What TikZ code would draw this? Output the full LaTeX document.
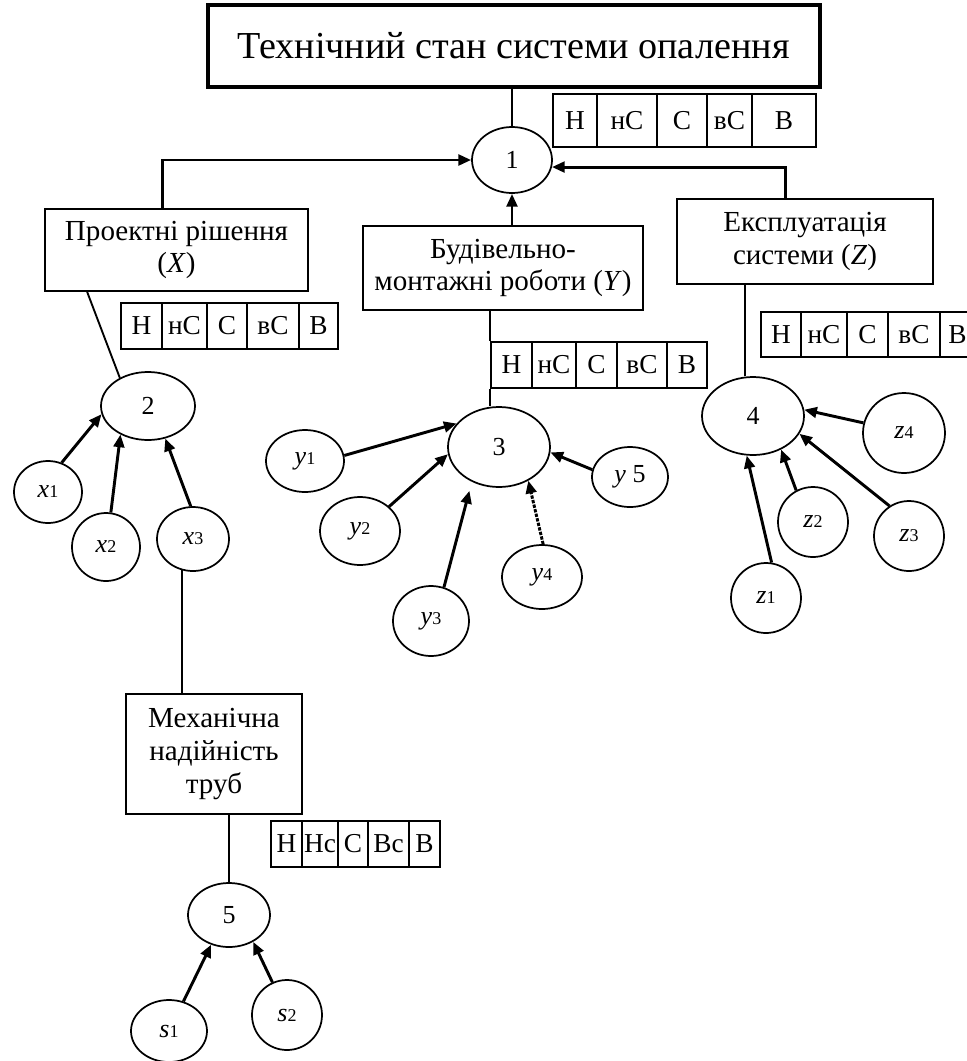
\documentclass[tikz,border=0pt]{standalone}
\usepackage{fontspec}
\setmainfont{Liberation Serif}
\usetikzlibrary{shapes.geometric,arrows.meta,calc}
\newcommand\lab[2]{{\itshape #1}{\fontsize{13.5}{13.5}\selectfont #2}}
\newcommand\tcell[6]{\node[tcell, minimum width={(#3-#2)*0.75pt}, minimum height={(#5-#4)*0.75pt}] (#1) at ({(#2+#3)/2},{(#4+#5)/2}) {#6};}
\begin{document}
\begin{tikzpicture}[x=0.75pt,y=-0.75pt,
  el/.style 2 args={ellipse, draw, line width=1.3pt, inner sep=0pt, minimum width=#1*0.75pt, minimum height=#2*0.75pt, font=\fontsize{19.5}{19.5}\selectfont},
  box/.style 2 args={rectangle, draw, line width=1.3pt, inner sep=0pt, minimum width=#1*0.75pt, minimum height=#2*0.75pt, align=center, font=\fontsize{21.8}{24.5}\selectfont},
  tcell/.style={rectangle, draw, line width=1pt, inner sep=0pt, font=\fontsize{20.5}{20.5}\selectfont},
  conn/.style={line width=1.4pt},
  arr/.style={line width=2.2pt, -{Triangle[length=9.5pt,width=8pt]}},
  dotarr/.style={arr, dash pattern=on 2.5pt off 1pt}]
\useasboundingbox (0,0) rectangle (967,1061);
\clip (0,0) rectangle (967,1061);

% title
\node[draw, line width=3pt, inner sep=0pt, minimum width=612*0.75pt, minimum height=82*0.75pt, font=\fontsize{28.6}{28.6}\selectfont] (title) at (513.5,46) {Технічний стан системи опалення};

% boxes
\node[box={263}{82}] (xbox) at (176.5,250) {Проектні рішення\\(\textit{X})};
\node[box={280}{84}] (ybox) at (503,268) {Будівельно-\\монтажні роботи (\textit{Y})};
\node[box={256}{85}] (zbox) at (805,241.5) {Експлуатація\\системи (\textit{Z})};
\node[box={176}{120}] (mech) at (214,754) {Механічна\\надійність\\труб};

% tables
\tcell{t1a}{553}{597}{94}{147}{Н}
\tcell{t1b}{597}{657}{94}{147}{нС}
\tcell{t1c}{657}{707}{94}{147}{С}
\tcell{t1d}{707}{752}{94}{147}{вС}
\tcell{t1e}{752}{816}{94}{147}{В}

\tcell{t2a}{121}{162}{303}{349}{Н}
\tcell{t2b}{162}{207}{303}{349}{нС}
\tcell{t2c}{207}{247}{303}{349}{С}
\tcell{t2d}{247}{299}{303}{349}{вС}
\tcell{t2e}{299}{338}{303}{349}{В}

\tcell{t3a}{491}{532}{342}{388}{Н}
\tcell{t3b}{532}{576}{342}{388}{нС}
\tcell{t3c}{576}{617}{342}{388}{С}
\tcell{t3d}{617}{667}{342}{388}{вС}
\tcell{t3e}{667}{707}{342}{388}{В}

\tcell{t4a}{761}{801}{312}{357}{Н}
\tcell{t4b}{801}{847}{312}{357}{нС}
\tcell{t4c}{847}{888}{312}{357}{С}
\tcell{t4d}{888}{940}{312}{357}{вС}
\tcell{t4e}{940}{975}{312}{357}{В}

\tcell{t5a}{271}{302}{821}{867}{Н}
\tcell{t5b}{302}{338}{821}{867}{Нс}
\tcell{t5c}{338}{368}{821}{867}{С}
\tcell{t5d}{368}{409}{821}{867}{Вс}
\tcell{t5e}{409}{440}{821}{867}{В}

% circles
\node[el={80}{66}] (c1) at (512,160) {1};
\node[el={94}{68}] (c2) at (148,406) {2};
\node[el={102}{80}] (c3) at (499,447) {3};
\node[el={102}{78}] (c4) at (753,416) {4};
\node[el={82}{64}] (c5) at (229,915) {5};
\node[el={68}{62}] (x1) at (48,492) {\lab{x}{1}};
\node[el={68}{68}] (x2) at (106,547) {\lab{x}{2}};
\node[el={72}{64}] (x3) at (193,539) {\lab{x}{3}};
\node[el={78}{62}] (y1) at (305,461) {\lab{y}{1}};
\node[el={80}{68}] (y2) at (360,531) {\lab{y}{2}};
\node[el={76}{70}] (y3) at (431,621) {\lab{y}{3}};
\node[el={80}{64}] (y4) at (542,577) {\lab{y}{4}};
\node[el={76}{60}] (y5) at (630,477) {{\itshape y} 5};
\node[el={70}{70}] (z1) at (766,598) {\lab{z}{1}};
\node[el={70}{70}] (z2) at (813,522) {\lab{z}{2}};
\node[el={70}{70}] (z3) at (909,536) {\lab{z}{3}};
\node[el={82}{80}] (z4) at (904,433) {\lab{z}{4}};
\node[el={76}{62}] (s1) at (169,1031) {\lab{s}{1}};
\node[el={70}{70}] (s2) at (287,1015) {\lab{s}{2}};

% plain connectors
\draw[conn] (c1.north |- title.south) -- (c1.north);
\draw[conn] ($(xbox.south west)+(43,0)$) -- (c2.135);
\draw[conn] (ybox.south -| t3a.west) -- (t3a.north west);
\draw[conn] (t3a.south west) -- (c3.north -| t3a.south west);
\coordinate (zc) at ($(zbox.south west)+(69,0)$);
\draw[conn] (zc) -- (zc |- c4.north);
\draw[conn] (x3.250) -- (x3.250 |- mech.north);
\draw[conn] (c5.north |- mech.south) -- (c5.north);

% arrows to 1
\coordinate (xb) at ($(xbox.north west)+(118,0)$);
\draw[arr] (xb) |- (c1.west);
\draw[arr] (c1.south |- ybox.north) -- (c1.south);
\coordinate (zb) at ($(zbox.north west)+(109,0)$);
\draw[arr] (zb) |- (c1.350);

% arrows to 2
\draw[arr] (x1.65) -- (c2.190);
\draw[arr] (x2.82) -- (c2.226);
\draw[arr] (x3.94) -- (c2.298);

% arrows to 3
\draw[arr] (y1.8) -- (c3.151);
\draw[arr] (y2.40) -- (c3.188);
\draw[arr, shorten >=7pt] (y3.69) -- (c3.232);
\draw[dotarr] (y4.88) -- (c3.311);
\draw[arr] (y5.169) -- (c3.354);

% arrows to 4
\draw[arr] (z1.81) -- (c4.261);
\draw[arr] (z2.118) -- (c4.310);
\draw[arr] (z3.123) -- (c4.339);
\draw[arr] (z4.166) -- (c4.7);

% arrows to 5
\draw[arr] (s1.64) -- (c5.239);
\draw[arr] (s2.114) -- (c5.312);
\end{tikzpicture}
\end{document}
